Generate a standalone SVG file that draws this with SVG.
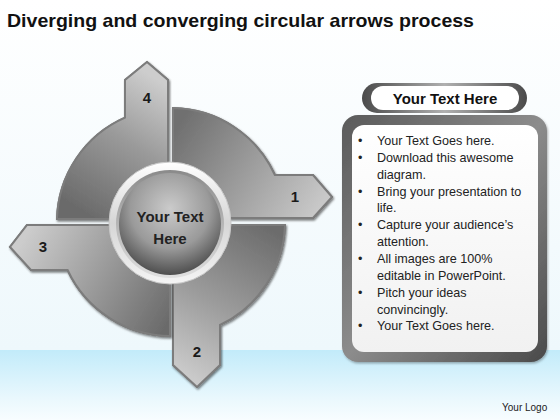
<svg xmlns="http://www.w3.org/2000/svg" width="560" height="420" viewBox="0 0 560 420">
<defs>
<style>
.title{font-family:"Liberation Sans",Arial,sans-serif;font-weight:bold;font-size:19px;fill:#111}
.num{font-family:"Liberation Sans",Arial,sans-serif;font-weight:bold;font-size:15px;fill:#1a1a1a;text-anchor:middle}
.ctr{font-family:"Liberation Sans",Arial,sans-serif;font-weight:bold;font-size:15px;fill:#222;text-anchor:middle}
.hdr{font-family:"Liberation Sans",Arial,sans-serif;font-weight:bold;font-size:15px;fill:#111;text-anchor:middle}
.bl{font-family:"Liberation Sans",Arial,sans-serif;font-size:12.6px;fill:#222}
.logo{font-family:"Liberation Sans",Arial,sans-serif;font-size:10px;fill:#222}
.q{stroke:#7c7c7c;stroke-width:2;filter:url(#sh)}
.qh{fill:none;stroke:#f2f2f2;stroke-width:0.9}
</style>
<linearGradient id="bgTop" x1="0" y1="0" x2="0" y2="1">
<stop offset="0" stop-color="#ffffff"/><stop offset="1" stop-color="#eef8fc"/>
</linearGradient>
<linearGradient id="bgBot" x1="0" y1="0" x2="0" y2="1">
<stop offset="0" stop-color="#c2ebfa"/><stop offset="0.7" stop-color="#eaf8fd"/><stop offset="1" stop-color="#f8fdff"/>
</linearGradient>
<linearGradient id="g4" gradientUnits="userSpaceOnUse" x1="70" y1="205" x2="150" y2="75">
<stop offset="0" stop-color="#6a6a6a"/><stop offset="0.55" stop-color="#9a9a9a"/><stop offset="1" stop-color="#cdcdcd"/>
</linearGradient>
<linearGradient id="g1" gradientUnits="userSpaceOnUse" x1="185" y1="115" x2="320" y2="205">
<stop offset="0" stop-color="#707070"/><stop offset="0.55" stop-color="#a0a0a0"/><stop offset="1" stop-color="#c8c8c8"/>
</linearGradient>
<linearGradient id="g2" gradientUnits="userSpaceOnUse" x1="280" y1="235" x2="195" y2="380">
<stop offset="0" stop-color="#6c6c6c"/><stop offset="0.55" stop-color="#9c9c9c"/><stop offset="1" stop-color="#cacaca"/>
</linearGradient>
<linearGradient id="g3" gradientUnits="userSpaceOnUse" x1="165" y1="330" x2="20" y2="245">
<stop offset="0" stop-color="#6a6a6a"/><stop offset="0.55" stop-color="#a0a0a0"/><stop offset="1" stop-color="#cccccc"/>
</linearGradient>
<linearGradient id="ring" x1="0" y1="0" x2="0" y2="1">
<stop offset="0" stop-color="#ffffff"/><stop offset="0.5" stop-color="#d6d6d6"/><stop offset="1" stop-color="#f4f4f4"/>
</linearGradient>
<linearGradient id="ring2" x1="0" y1="0" x2="0" y2="1">
<stop offset="0" stop-color="#8a8a8a"/><stop offset="1" stop-color="#e0e0e0"/>
</linearGradient>
<radialGradient id="disc" cx="0.5" cy="0.35" r="0.65">
<stop offset="0" stop-color="#cbcbcb"/><stop offset="0.6" stop-color="#9a9a9a"/><stop offset="1" stop-color="#4e4e4e"/>
</radialGradient>
<linearGradient id="frame" x1="0" y1="0" x2="1" y2="1">
<stop offset="0" stop-color="#5a5a5a"/><stop offset="0.5" stop-color="#8c8c8c"/><stop offset="1" stop-color="#4a4a4a"/>
</linearGradient>
<linearGradient id="inner" x1="0" y1="0" x2="0" y2="1">
<stop offset="0" stop-color="#ffffff"/><stop offset="1" stop-color="#f1f1f1"/>
</linearGradient>
<linearGradient id="pill" x1="0" y1="0" x2="1" y2="0">
<stop offset="0" stop-color="#4a4a4a"/><stop offset="0.5" stop-color="#b0b0b0"/><stop offset="1" stop-color="#4a4a4a"/>
</linearGradient>
<filter id="sh" x="-10%" y="-10%" width="130%" height="130%">
<feDropShadow dx="1" dy="1.5" stdDeviation="1.2" flood-color="#000" flood-opacity="0.3"/>
</filter>
</defs>

<rect x="0" y="0" width="560" height="350" fill="url(#bgTop)"/>
<rect x="0" y="350" width="560" height="70" fill="url(#bgBot)"/>

<text class="title" x="7" y="27" textLength="467" lengthAdjust="spacingAndGlyphs">Diverging and converging circular arrows process</text>

<g id="node-q4">
<path id="p4" class="q" fill="url(#g4)" d="M57,219 A114,114 0 0 1 125,117.7 L125,80 L147,62 L168,80 L168,167 A56,56 0 0 0 115.1,219 Z"/>
<use href="#p4" class="qh"/>
<text class="num" x="147" y="103">4</text>
</g>

<g id="node-q1">
<path id="p1" class="q" fill="url(#g1)" d="M173,108 A114,114 0 0 1 274.9,175 L313,175 L332,197 L313,218 L226.9,218 A56,56 0 0 0 173,166 Z"/>
<use href="#p1" class="qh"/>
<text class="num" x="295" y="202">1</text>
</g>

<g id="node-q2">
<path id="p2" class="q" fill="url(#g2)" d="M285,225 A114,114 0 0 1 220,324.9 L220,365 L197,387 L173,365 L173,278 A56,56 0 0 0 226.9,225 Z"/>
<use href="#p2" class="qh"/>
<text class="num" x="197" y="357">2</text>
</g>

<g id="node-q3">
<path id="p3" class="q" fill="url(#g3)" d="M170,336 A114,114 0 0 1 67.6,270 L31,270 L10,247 L27,225 L115.1,225 A56,56 0 0 0 170,278 Z"/>
<use href="#p3" class="qh"/>
<text class="num" x="43" y="252">3</text>
</g>

<g id="node-center">
<circle cx="170" cy="223" r="61" fill="url(#ring)" stroke="#c8c8c8" stroke-width="1"/>
<circle cx="170" cy="224" r="54" fill="url(#ring2)"/>
<circle cx="170" cy="224" r="51" fill="url(#disc)"/>
<text class="ctr" x="170" y="222">Your Text</text>
<text class="ctr" x="170" y="244">Here</text>
</g>

<g id="node-header">
<rect x="362" y="83" width="165" height="30" rx="15" fill="url(#pill)"/>
<rect x="371" y="86" width="148" height="24" rx="12" fill="#ffffff"/>
<text class="hdr" x="445" y="104">Your Text Here</text>
</g>

<g id="node-textbox">
<rect x="342" y="115" width="205" height="247" rx="16" fill="url(#frame)" filter="url(#sh)"/>
<rect x="352" y="125" width="186" height="227" rx="12" fill="url(#inner)"/>
<g class="bl">
<text x="358" y="145">•</text><text x="377" y="145">Your Text Goes here.</text>
<text x="358" y="161.9">•</text><text x="377" y="161.9">Download this awesome</text>
<text x="377" y="178.7">diagram.</text>
<text x="358" y="195.6">•</text><text x="377" y="195.6">Bring your presentation to</text>
<text x="377" y="212.4">life.</text>
<text x="358" y="229.3">•</text><text x="377" y="229.3">Capture your audience’s</text>
<text x="377" y="246.1">attention.</text>
<text x="358" y="263">•</text><text x="377" y="263">All images are 100%</text>
<text x="377" y="279.8">editable in PowerPoint.</text>
<text x="358" y="296.7">•</text><text x="377" y="296.7">Pitch your ideas</text>
<text x="377" y="313.5">convincingly.</text>
<text x="358" y="330.4">•</text><text x="377" y="330.4">Your Text Goes here.</text>
</g>
</g>

<text class="logo" x="502" y="411">Your Logo</text>
</svg>
